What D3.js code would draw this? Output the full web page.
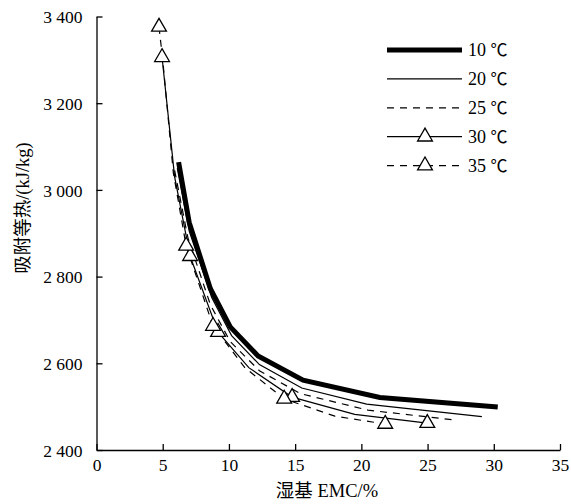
<!DOCTYPE html>
<html>
<head>
<meta charset="utf-8">
<script src="https://d3js.org/d3.v7.min.js"></script>
<style>
  body { margin: 0; background: #fff; }
  svg text { font-family: "Liberation Serif", "Times New Roman", "Noto Sans CJK SC", serif; fill: #000; }
</style>
</head>
<body>
<div id="chart"></div>
<script>
// EMC (%) vs isosteric heat (kJ/kg)
const xTicks = [0, 5, 10, 15, 20, 25, 30, 35];
const yTicks = [2400, 2600, 2800, 3000, 3200, 3400];

const t10 = [[6.2, 3064], [7.0, 2925], [8.6, 2772], [10.1, 2684], [12.2, 2617], [15.6, 2561], [21.4, 2521], [30.3, 2499]];
const t20 = [[6.1, 3050], [7.0, 2905], [8.7, 2752], [10.2, 2664], [12.3, 2597], [15.5, 2543], [20.4, 2506], [29.1, 2477]];
const t25 = [[5.9, 3045], [6.9, 2890], [8.6, 2735], [10.1, 2650], [12.3, 2583], [15.4, 2530], [20.5, 2492], [27.1, 2469]];
const t30 = [[4.95, 3306], [5.9, 3030], [7.07, 2847], [9.18, 2672], [11.5, 2590], [14.77, 2522], [19.5, 2482], [24.98, 2462]];
const t35 = [[4.72, 3376], [5.0, 3300], [5.8, 3040], [6.77, 2871], [8.8, 2686], [11.2, 2590], [14.17, 2518], [18.0, 2478], [21.8, 2460]];
const t30marks = [[4.95, 3306], [7.07, 2847], [9.18, 2672], [14.77, 2522], [24.98, 2462]];
const t35marks = [[4.72, 3376], [6.77, 2871], [8.8, 2686], [14.17, 2518], [21.8, 2460]];

const seriesTemps = ["10", "20", "25", "30", "35"];

const W = 571, H = 504;
const margin = { top: 16.5, right: 11, bottom: 54, left: 96.5 };
const width = W - margin.left - margin.right;
const height = H - margin.top - margin.bottom;

const svg = d3.select("#chart").append("svg")
    .attr("width", W).attr("height", H);
const g = svg.append("g")
    .attr("transform", `translate(${margin.left},${margin.top})`);

const x = d3.scaleLinear().domain([0, 35]).range([0, width]);
const y = d3.scaleLinear().domain([2400, 3400]).range([height, 0]);

// axes, ticks pointing inward
const fmt = d => d3.format(",")(d).replace(",", " ");
const xAxis = g.append("g").attr("transform", `translate(0,${height})`)
    .call(d3.axisBottom(x).tickValues(xTicks).tickSizeInner(-6).tickSizeOuter(0).tickPadding(9));
const yAxis = g.append("g")
    .call(d3.axisLeft(y).tickValues(yTicks).tickSizeInner(-6).tickSizeOuter(0).tickPadding(14).tickFormat(fmt));
[xAxis, yAxis].forEach(a => {
    a.selectAll("path").attr("stroke", "#000").attr("stroke-width", 1.3);
    a.selectAll("line").attr("stroke", "#000").attr("stroke-width", 1.3);
    a.selectAll("text").style("font-size", "17.5px");
});
yAxis.selectAll(".tick text").attr("dy", "0.35em");

const line = d3.line().x(d => x(d[0])).y(d => y(d[1]));

const styles = [
    { data: t10, w: 5, dash: null },
    { data: t20, w: 1.2, dash: null },
    { data: t25, w: 1.2, dash: "7,6" },
    { data: t30, w: 1.2, dash: null },
    { data: t35, w: 1.2, dash: "7,6" }
];

styles.forEach(s => {
    g.append("path").datum(s.data)
        .attr("d", line)
        .attr("fill", "none")
        .attr("stroke", "#000")
        .attr("stroke-width", s.w)
        .attr("stroke-dasharray", s.dash);
});

const tri = d3.symbol().type(d3.symbolTriangle).size(95);
[t30marks, t35marks].forEach(m => {
    g.selectAll(null).data(m).join("path")
        .attr("d", tri)
        .attr("transform", d => `translate(${x(d[0])},${y(d[1])})`)
        .attr("fill", "#fff")
        .attr("stroke", "#000")
        .attr("stroke-width", 1.3);
});

// legend
const lg = svg.append("g");
styles.forEach((s, i) => {
    const ly = 50 + i * 28.9;
    lg.append("line")
        .attr("x1", 387).attr("x2", 462).attr("y1", ly).attr("y2", ly)
        .attr("stroke", "#000")
        .attr("stroke-width", s.w)
        .attr("stroke-dasharray", s.dash);
    if (i >= 3) {
        lg.append("path").attr("d", tri)
            .attr("transform", `translate(425,${ly})`)
            .attr("fill", "#fff").attr("stroke", "#000").attr("stroke-width", 1.3);
    }
    const t = lg.append("text")
        .attr("x", 468).attr("y", ly).attr("dy", "0.35em")
        .style("font-size", "18px");
    t.append("tspan").text(seriesTemps[i] + " ");
    t.append("tspan").style("font-family", "'Noto Sans CJK SC'").style("font-size", "17px").text("℃");
});

// axis titles
svg.append("text")
    .attr("x", 327).attr("y", 497)
    .attr("text-anchor", "middle")
    .style("font-size", "18.5px")
    .text("湿基 EMC/%");

svg.append("text")
    .attr("transform", "translate(29,208) rotate(-90)")
    .attr("text-anchor", "middle")
    .style("font-size", "18.5px")
    .text("吸附等热/(kJ/kg)");
</script>
</body>
</html>
